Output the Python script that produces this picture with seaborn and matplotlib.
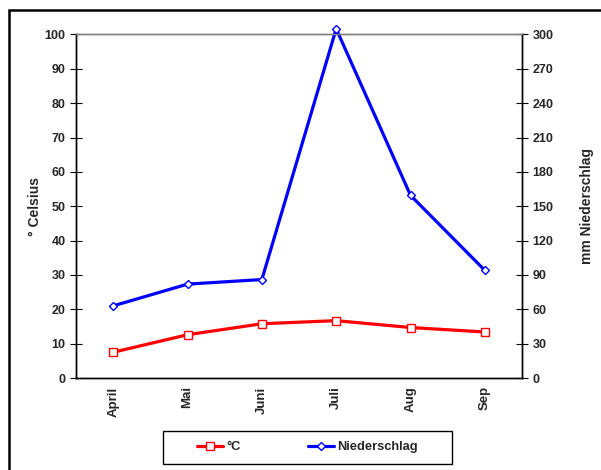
import numpy as np
import pandas as pd
import matplotlib
matplotlib.use("Agg")
import matplotlib.pyplot as plt
from matplotlib.lines import Line2D
from matplotlib.patches import Rectangle
import seaborn as sns

months = ["April", "Mai", "Juni", "Juli", "Aug", "Sep"]
temp_c = [7.5, 12.6, 15.8, 16.7, 14.7, 13.4]
rain_mm = [63, 82, 86, 305, 159.5, 94]


def build_frame():
    return pd.DataFrame({"Monat": months, "pos": np.arange(len(months)),
                         "temp": temp_c, "rain": rain_mm})


def plot_climate(data):
    sns.set_style("white")
    plt.rcParams["font.family"] = ["Liberation Sans", "DejaVu Sans"]
    plt.rcParams["font.weight"] = "bold"

    fig = plt.figure(figsize=(6.01, 4.70), dpi=100)
    ax = fig.add_axes([0.1265, 0.1957, 0.7421, 0.7309])
    ax2 = ax.twinx()

    sns.lineplot(x="pos", y="temp", data=data, ax=ax, color="#ff0000", lw=2.3,
                 marker="s", markersize=6, markerfacecolor="white",
                 markeredgecolor="#ff0000", markeredgewidth=1.0, clip_on=False)
    sns.lineplot(x="pos", y="rain", data=data, ax=ax2, color="#0000ff", lw=2.3,
                 marker="D", markersize=4.5, markerfacecolor="white",
                 markeredgecolor="#0000ff", markeredgewidth=1.0, clip_on=False)

    ax.set_xlim(-0.5, len(months) - 0.5)
    ax.set_ylim(0, 100)
    ax2.set_ylim(0, 300)
    ax.set_yticks(np.arange(0, 101, 10))
    ax2.set_yticks(np.arange(0, 301, 30))

    ax.set_xticks(np.arange(len(months)))
    ax.set_xticklabels(months, rotation=90, fontsize=9.5, fontweight="bold")
    ax.set_xticks(np.arange(-0.5, len(months), 1), minor=True)
    ax.tick_params(axis="x", which="major", length=0, pad=6)
    ax.tick_params(axis="x", which="minor", length=8, direction="inout", width=0.8, color="black")
    ax.tick_params(axis="y", length=9, direction="inout", width=0.8, color="black", labelsize=9, pad=3)
    ax2.tick_params(axis="y", length=9, direction="inout", width=0.8, color="black", labelsize=9, pad=3)
    for lab in ax.get_yticklabels() + ax2.get_yticklabels():
        lab.set_fontweight("bold")

    ax.set_xlabel("")
    ax.set_ylabel("° Celsius", fontsize=10, fontweight="bold", labelpad=2)
    ax2.set_ylabel("mm Niederschlag", fontsize=10, fontweight="bold", labelpad=19)

    for a in (ax, ax2):
        for side in ("left", "right", "bottom"):
            a.spines[side].set_color("black")
            a.spines[side].set_linewidth(1.0)
        a.spines["top"].set_color("#808080")
        a.spines["top"].set_linewidth(1.0)
        a.grid(False)

    handles = [
        Line2D([], [], color="#ff0000", lw=2.3, marker="s", markersize=6,
               markerfacecolor="white", markeredgecolor="#ff0000"),
        Line2D([], [], color="#0000ff", lw=2.3, marker="D", markersize=4.5,
               markerfacecolor="white", markeredgecolor="#0000ff"),
    ]
    fig.legend(handles, ["°C", "Niederschlag"], ncol=2, loc="center",
               bbox_to_anchor=(0.5117, 0.048), frameon=False,
               handlelength=2.0, handletextpad=0.25, columnspacing=5.2,
               prop={"weight": "bold", "size": 9.3})

    # legend box with grey shadow, like the Excel original
    fig.patches.append(Rectangle((164 / 601, 1 - 465 / 470), 289 / 601, 33 / 470,
                                 transform=fig.transFigure, fill=True,
                                 facecolor="#808080", edgecolor="none", zorder=0))
    fig.patches.append(Rectangle((162.5 / 601, 1 - 463.5 / 470), 289 / 601, 32.5 / 470,
                                 transform=fig.transFigure, fill=True,
                                 facecolor="white", edgecolor="black", lw=1.0, zorder=1))

    fig.patches.append(Rectangle((8.5 / 601, -0.05), 1.1, 1 - 10.5 / 470 + 0.05,
                                 transform=fig.transFigure, fill=False,
                                 edgecolor="black", lw=1.8))

    fig.savefig("out.png", dpi=100)


if __name__ == "__main__":
    plot_climate(build_frame())
